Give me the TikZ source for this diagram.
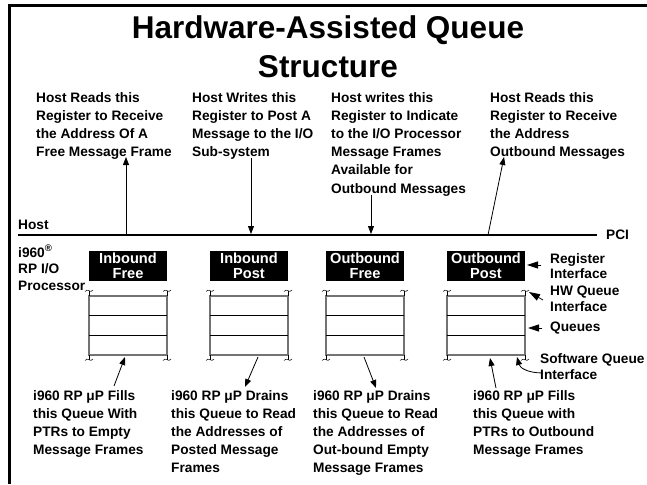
\documentclass[tikz,border=0pt]{standalone}
\usepackage{fontspec}
\setmainfont{Liberation Sans}
\usetikzlibrary{arrows.meta}
\begin{document}
\begin{tikzpicture}[x=1pt,y=-1pt,
  body/.style={font=\bfseries\fontsize{13.7}{18.2}\selectfont, align=left, inner sep=0, anchor=north west},
  side/.style={font=\bfseries\fontsize{13.7}{15.5}\selectfont, align=left, inner sep=0, anchor=west},
  ttl/.style={font=\bfseries\fontsize{31.5}{33}\selectfont, inner sep=0},
  regbox/.style={fill=black, text=white, font=\bfseries\fontsize{14.6}{14.7}\selectfont, align=center, minimum width=78, minimum height=30, inner sep=0},
  queue/.style={draw=black!55, line width=1.1pt, minimum width=78, minimum height=59, inner sep=0},
  arr/.style={-{Triangle[length=8pt,width=6pt]}, line width=0.8pt},
  bigarr/.style={-{Triangle[length=11pt,width=7pt]}, line width=0.8pt},
  brk/.style={line width=0.5pt}
]
\useasboundingbox (0,0) rectangle (647,484);
% frame
\draw[line width=2.6pt] (9.5,484) -- (9.5,5.5) -- (647,5.5);
% title
\node[ttl] (title1) at (328,30) {Hardware-Assisted Queue};
\node[ttl] (title2) at (328,67) {Structure};
% top texts
\node[body] (h1) at (36,92) {Host Reads this\\Register to Receive\\the Address Of A\\Free Message Frame};
\node[body] (h2) at (192,92) {Host Writes this\\Register to Post A\\Message to the I/O\\Sub-system};
\node[body] (h3) at (331,92) {Host writes this\\Register to Indicate\\to the I/O Processor\\Message Frames\\Available for\\Outbound Messages};
\node[body] (h4) at (490,92) {Host Reads this\\Register to Receive\\the Address\\Outbound Messages};
% host line
\node[side] (host) at (18,225) {Host};
\coordinate (hl) at (18,235);
\coordinate (hr) at (597,235);
\draw[line width=2pt] (hl) -- (hr);
\node[side] (pci) at (606,235) {PCI};
\node[font=\bfseries\fontsize{13.7}{16.5}\selectfont, align=left, inner sep=0, anchor=north west] (proc) at (18,245) {i960\textsuperscript{®}\\RP I/O\\Processor};
% register boxes
\node[regbox] (r1) at (128,266) {Inbound\\Free};
\node[regbox] (r2) at (249,266) {Inbound\\Post};
\node[regbox] (r3) at (365,266) {Outbound\\Free};
\node[regbox] (r4) at (486,266) {Outbound\\Post};
% queues
\node[queue] (q1) at (128,325.5) {};
\node[queue] (q2) at (249,325.5) {};
\node[queue] (q3) at (365,325.5) {};
\node[queue] (q4) at (486,325.5) {};
\foreach \c in {128,249,365,486}{
  \draw[line width=0.7pt] (\c-39,315.7) -- (\c+39,315.7);
  \draw[line width=0.7pt] (\c-39,335.5) -- (\c+39,335.5);
  \foreach \s in {-39,39}{
    \draw[brk] (\c+\s,296) -- (\c+\s,291);
    \draw[brk] (\c+\s-4,291.5) .. controls (\c+\s-1.5,287.5) and (\c+\s+1.5,294) .. (\c+\s+4,290);
    \draw[brk] (\c+\s,355) -- (\c+\s,360);
    \draw[brk] (\c+\s-4,360.5) .. controls (\c+\s-1.5,356.5) and (\c+\s+1.5,363) .. (\c+\s+4,359);
  }
}
% top arrows
\coordinate (a1b) at (126,235); \coordinate (a1t) at (126,157);
\coordinate (a2t) at (251,158); \coordinate (a2b) at (251,234);
\coordinate (a3t) at (371,195); \coordinate (a3b) at (371,234);
\coordinate (a4b) at (488,235); \coordinate (a4t) at (504,157);
\draw[arr] (a1b) -- (a1t);
\draw[arr] (a2t) -- (a2b);
\draw[arr] (a3t) -- (a3b);
\draw[arr] (a4b) -- (a4t);
% bottom texts
\node[body] (b1) at (33,390) {i960 RP μP Fills\\this Queue With\\PTRs to Empty\\Message Frames};
\node[body] (b2) at (171,390) {i960 RP μP Drains\\this Queue to Read\\the Addresses of\\Posted Message\\Frames};
\node[body] (b3) at (313,390) {i960 RP μP Drains\\this Queue to Read\\the Addresses of\\Out-bound Empty\\Message Frames};
\node[body] (b4) at (473,390) {i960 RP μP Fills\\this Queue with\\PTRs to Outbound\\Message Frames};
% bottom arrows
\coordinate (c1b) at (114,386); \coordinate (c1t) at (125,357);
\coordinate (c2t) at (258,357); \coordinate (c2b) at (245,387);
\coordinate (c3t) at (364,357); \coordinate (c3b) at (376,388);
\coordinate (c4b) at (496,388); \coordinate (c4t) at (490,358);
\draw[arr] (c1b) -- (c1t);
\draw[arr] (c2t) -- (c2b);
\draw[arr] (c3t) -- (c3b);
\draw[arr] (c4b) -- (c4t);
% right side labels
\node[side, align=left] (lreg) at (550,266) {Register\\Interface};
\node[side, align=left] (lhw) at (550,299) {HW Queue\\Interface};
\node[side] (lq) at (550,328) {Queues};
\node[side, align=left] (lsw) at (540,366.5) {Software Queue\\Interface};
\coordinate (p1) at (541,265); \coordinate (p1t) at (527,265);
\coordinate (p2) at (543,300); \coordinate (p2t) at (529,292);
\coordinate (p3) at (542,328); \coordinate (p3t) at (528,328);
\draw[bigarr] (p1) -- (p1t);
\draw[bigarr] (p2) -- (p2t);
\draw[bigarr] (p3) -- (p3t);
\coordinate (p4) at (543,373); \coordinate (p4t) at (517,357);
\draw[arr] (p4) .. controls (528,373) and (520,368) .. (p4t);
\end{tikzpicture}
\end{document}
